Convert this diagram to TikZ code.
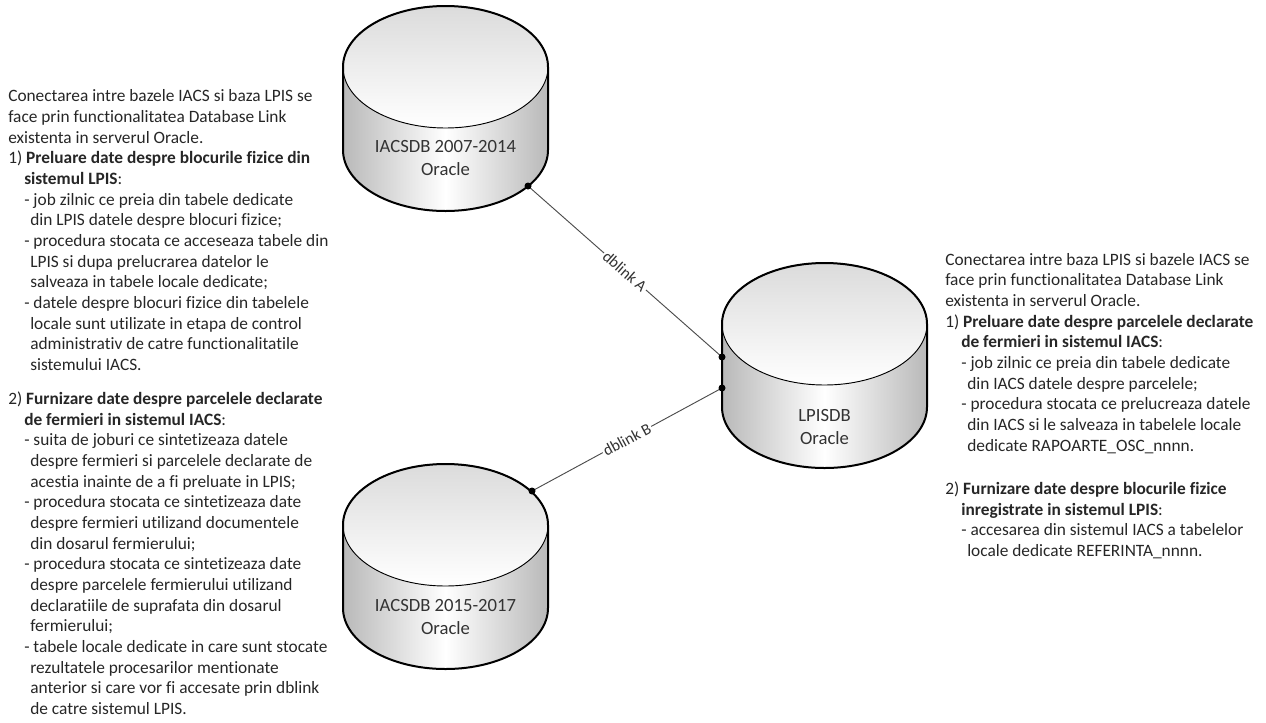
\documentclass[tikz,border=0pt]{standalone}
\usepackage{fontspec}
\setmainfont{Carlito}[Ligatures=NoCommon]
\usepackage{tikz}

\newcommand{\lvla}{\hspace*{12pt}}
\newcommand{\lvlb}{\hspace*{16.5pt}}

\tikzset{
  dbbody/.style={left color=gray!55, right color=gray!55, middle color=white},
  dbtop/.style={top color=gray!28, bottom color=white, draw=black, line width=0.7pt},
  dbedge/.style={draw=black, line width=1.5pt, line join=round},
  dbtext/.style={font=\fontsize{14}{17}\selectfont, text=black!80, align=center},
  notes/.style={anchor=north west, align=left, inner sep=0pt, text=black!85, font=\fontsize{13}{15.5}\selectfont},
  link/.style={draw=black!70, line width=0.7pt},
  linklbl/.style={sloped, fill=white, inner sep=1pt, text=black!80, font=\fontsize{12}{14}\selectfont},
}

\begin{document}
\begin{tikzpicture}[x=0.75pt, y=-0.75pt]
\path[use as bounding box] (0,0) rectangle (1266,722);

% database cylinders
\foreach \cx/\cy/\nm/\lbl/\dy in {445.5/67/iacsold/{IACSDB 2007-2014\\Oracle}/91,
    445.5/525/iacsnew/{IACSDB 2015-2017\\Oracle}/92,
    824.5/324/lpis/{LPISDB\\Oracle}/103}{
  \path[dbbody] (\cx-102.5,\cy) -- (\cx-102.5,\cy+83) arc[start angle=180, end angle=0, x radius=102.5, y radius=61]
    -- (\cx+102.5,\cy) arc[start angle=0, end angle=180, x radius=102.5, y radius=61] -- cycle;
  \path[dbtop] (\cx,\cy) ellipse [x radius=102.5, y radius=61];
  \draw[dbedge] (\cx-102.5,\cy) arc[start angle=180, end angle=360, x radius=102.5, y radius=61]
    -- (\cx+102.5,\cy+83) arc[start angle=0, end angle=180, x radius=102.5, y radius=61] -- cycle;
  \node[dbtext] (\nm) at (\cx,\cy+\dy) {\lbl};
}

% dblink ends
\coordinate (linkAs) at (528,186);
\coordinate (linkAe) at (722,357);
\coordinate (linkBs) at (532,491);
\coordinate (linkBe) at (722,388);

\draw[link] (linkAs) -- node[linklbl] {dblink A} (linkAe);
\draw[link] (linkBs) -- node[linklbl] {dblink B} (linkBe);
\foreach \p in {linkAs,linkAe,linkBs,linkBe}
    \fill (\p) circle (3.5);

% notes
\node[notes] (iacsnotes) at (8,89.5) {Conectarea intre bazele IACS si baza LPIS se\\
face prin functionalitatea Database Link\\
existenta in serverul Oracle.\\
1) \textbf{Preluare date despre blocurile fizice din}\\
\lvla\textbf{sistemul LPIS}:\\
\lvla- job zilnic ce preia din tabele dedicate\\
\lvlb din LPIS datele despre blocuri fizice;\\
\lvla- procedura stocata ce acceseaza tabele din\\
\lvlb LPIS si dupa prelucrarea datelor le\\
\lvlb salveaza in tabele locale dedicate;\\
\lvla- datele despre blocuri fizice din tabelele\\
\lvlb locale sunt utilizate in etapa de control\\
\lvlb administrativ de catre functionalitatile\\
\lvlb sistemului IACS.\\[10pt]
2) \textbf{Furnizare date despre parcelele declarate}\\
\lvla\textbf{de fermieri in sistemul IACS}:\\
\lvla- suita de joburi ce sintetizeaza datele\\
\lvlb despre fermieri si parcelele declarate de\\
\lvlb acestia inainte de a fi preluate in LPIS;\\
\lvla- procedura stocata ce sintetizeaza date\\
\lvlb despre fermieri utilizand documentele\\
\lvlb din dosarul fermierului;\\
\lvla- procedura stocata ce sintetizeaza date\\
\lvlb despre parcelele fermierului utilizand\\
\lvlb declaratiile de suprafata din dosarul\\
\lvlb fermierului;\\
\lvla- tabele locale dedicate in care sunt stocate\\
\lvlb rezultatele procesarilor mentionate\\
\lvlb anterior si care vor fi accesate prin dblink\\
\lvlb de catre sistemul LPIS.};

\node[notes] (lpisnotes) at (945,253) {Conectarea intre baza LPIS si bazele IACS se\\
face prin functionalitatea Database Link\\
existenta in serverul Oracle.\\
1) \textbf{Preluare date despre parcelele declarate}\\
\lvla\textbf{de fermieri in sistemul IACS}:\\
\lvla- job zilnic ce preia din tabele dedicate\\
\lvlb din IACS datele despre parcelele;\\
\lvla- procedura stocata ce prelucreaza datele\\
\lvlb din IACS si le salveaza in tabelele locale\\
\lvlb dedicate RAPOARTE\_OSC\_nnnn.\\[17pt]
2) \textbf{Furnizare date despre blocurile fizice}\\
\lvla\textbf{inregistrate in sistemul LPIS}:\\
\lvla- accesarea din sistemul IACS a tabelelor\\
\lvlb locale dedicate REFERINTA\_nnnn.};
\end{tikzpicture}
\end{document}
